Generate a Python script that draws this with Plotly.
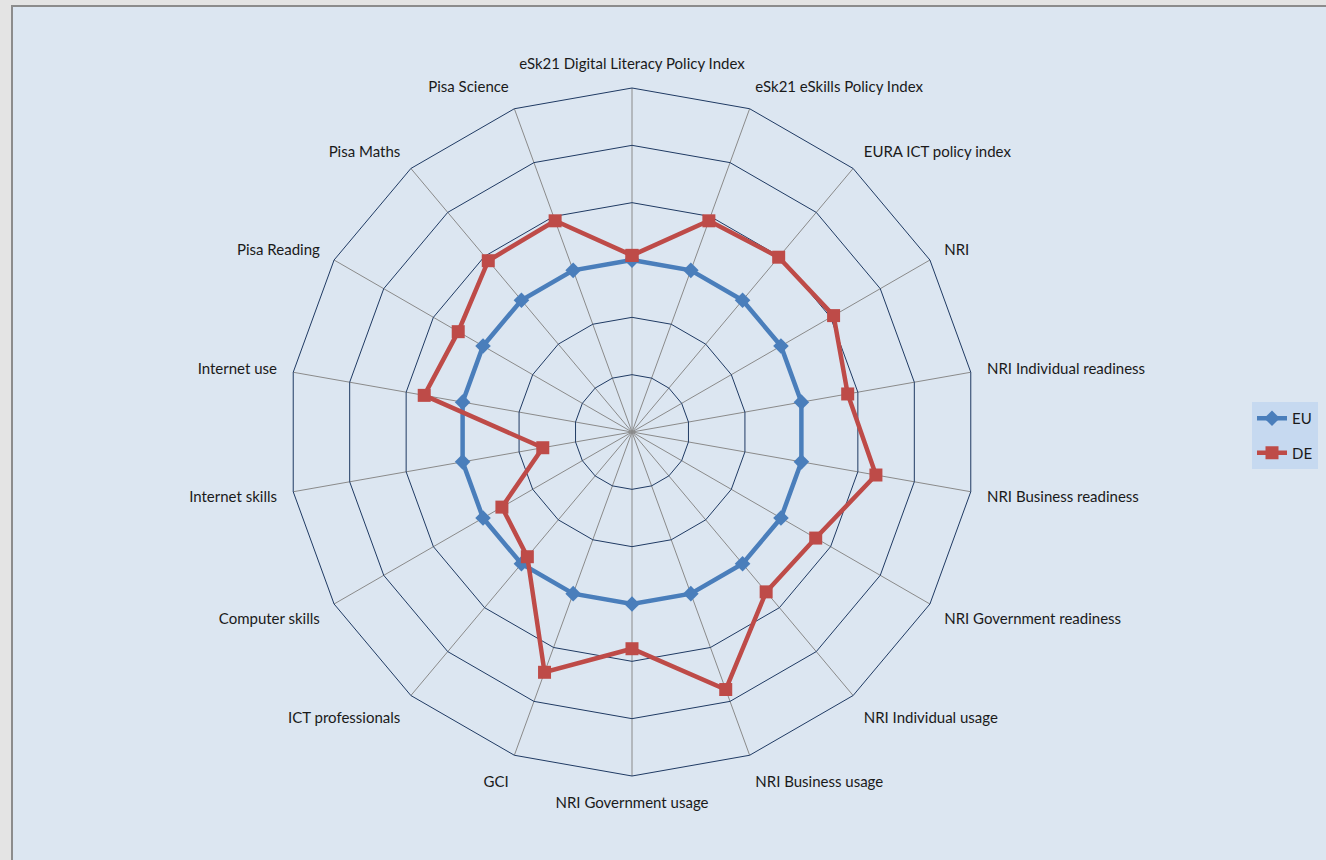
import plotly.graph_objects as go

categories = [
    "eSk21 Digital Literacy Policy Index", "eSk21 eSkills Policy Index",
    "EURA ICT policy index", "NRI", "NRI Individual readiness",
    "NRI Business readiness", "NRI Government readiness",
    "NRI Individual usage", "NRI Business usage", "NRI Government usage",
    "GCI", "ICT professionals", "Computer skills", "Internet skills",
    "Internet use", "Pisa Reading", "Pisa Maths", "Pisa Science",
]
eu_values = [1.5] * 18
de_values = [1.54, 1.96, 1.99, 2.03, 1.91, 2.16, 1.85, 1.82, 2.39, 1.89,
             2.23, 1.42, 1.31, 0.79, 1.84, 1.75, 1.95, 1.96]

W, H = 1326, 860
cx, cy, R = 632, 432, 344

fig = go.Figure()
fig.add_trace(go.Scatterpolar(
    r=eu_values + [eu_values[0]], theta=categories + [categories[0]],
    mode="lines+markers", name="EU", legendgroup="eu",
    line=dict(color="#4a7ebb", width=4.5),
    marker=dict(symbol="diamond", size=12, color="#4a7ebb"),
))
fig.add_trace(go.Scatterpolar(
    r=de_values + [de_values[0]], theta=categories + [categories[0]],
    mode="lines+markers", name="DE", legendgroup="de",
    line=dict(color="#be4b48", width=4.5),
    marker=dict(symbol="square", size=13, color="#be4b48"),
))

fig.update_layout(
    width=W, height=H,
    margin=dict(l=0, r=0, t=0, b=0),
    paper_bgcolor="#e4e4e4",
    plot_bgcolor="#dce6f1",
    font=dict(family="Lato, Calibri, sans-serif", size=15, color="#1a1a1a"),
    shapes=[dict(type="rect", xref="paper", yref="paper",
                 x0=12 / W, x1=1.01, y0=-0.01, y1=1 - 6 / H,
                 fillcolor="#dce6f1", line=dict(color="#8c8c8c", width=2),
                 layer="below")],
    polar=dict(
        domain=dict(x=[(cx - R) / W, (cx + R) / W],
                    y=[1 - (cy + R) / H, 1 - (cy - R) / H]),
        bgcolor="rgba(0,0,0,0)",
        gridshape="linear",
        radialaxis=dict(range=[0, 3], dtick=0.5, showticklabels=False,
                        ticks="", showline=False,
                        gridcolor="#1f3a63", gridwidth=1),
        angularaxis=dict(rotation=90, direction="clockwise",
                         showline=True, linecolor="#1f3a63", linewidth=1,
                         gridcolor="#8a8a8a", gridwidth=1,
                         ticks="outside", ticklen=13,
                         tickcolor="rgba(0,0,0,0)",
                         tickfont=dict(size=15)),
    ),
    legend=dict(x=1252 / W, y=1 - 402 / H, xanchor="left", yanchor="top",
                bgcolor="#c6d9f0", font=dict(size=15),
                traceorder="grouped", tracegroupgap=12,
                itemwidth=30, borderwidth=0),
    showlegend=True,
)

fig.write_html("out.html")
